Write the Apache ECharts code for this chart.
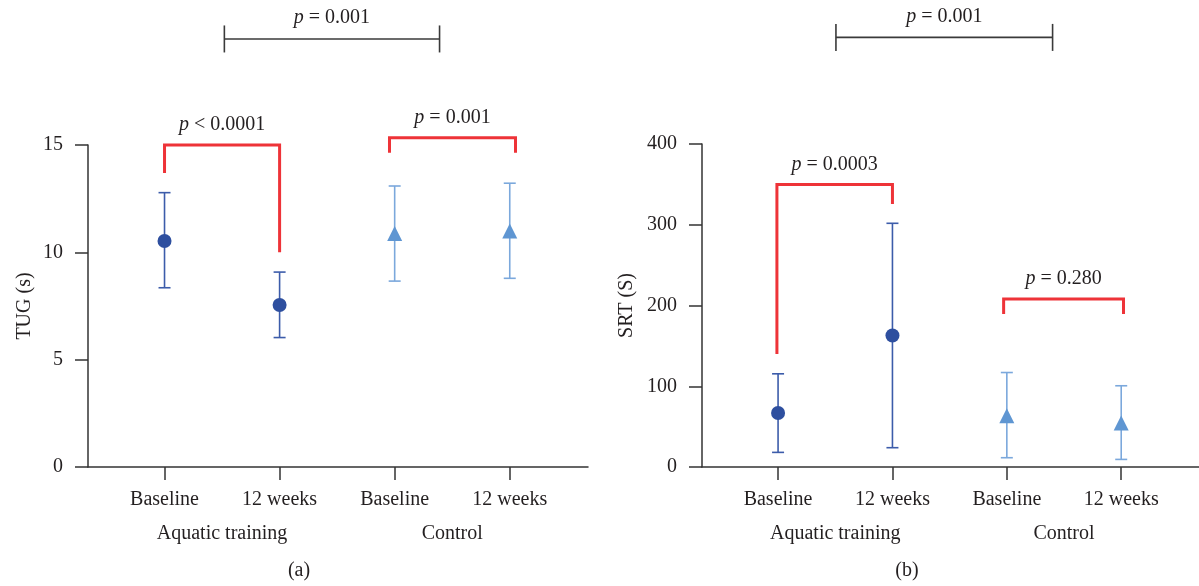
<!DOCTYPE html>
<html>
<head>
<meta charset="utf-8">
<style>
html,body{margin:0;padding:0;background:#fff;}
#chart{width:1199px;height:586px;}
</style>
<script src="https://cdn.jsdelivr.net/npm/echarts@6/dist/echarts.min.js"></script>
</head>
<body>
<div id="chart"></div>
<script>
// ---- data ----
const categories = ['Baseline', '12 weeks', 'Baseline', '12 weeks'];
const catPos = [1, 2, 3, 4];
const groups = ['Aquatic training', 'Control'];
const groupPos = [1.5, 3.5];

const tugMean = [10.53, 7.55, 10.88, 10.99];
const tugLow  = [8.35, 6.03, 8.66, 8.79];
const tugHigh = [12.78, 9.08, 13.09, 13.22];

const srtMean = [66.8, 162.8, 63.5, 54.4];
const srtLow  = [18.1, 23.9, 11.5, 9.4];
const srtHigh = [115.4, 301.8, 117, 100.6];

const tugTicks = [0, 5, 10, 15];
const srtTicks = [0, 100, 200, 300, 400];

// brackets: [x1, x2, yTop, yLeftEnd, yRightEnd]
const tugBrackets = [[1, 2, 15, 13.7, 10], [2.955, 4.05, 15.34, 14.64, 14.64]];
const tugBracketText = ['{i|p} < 0.0001', '{i|p} = 0.001'];
const tugTopBracket = [1.52, 3.39, 19.94];
const tugTopText = '{i|p} = 0.001';

const srtBrackets = [[0.99, 2, 350, 140, 325.7], [2.972, 4.02, 208.2, 189.6, 189.6]];
const srtBracketText = ['{i|p} = 0.0003', '{i|p} = 0.280'];
const srtTopBracket = [1.506, 3.40, 532];
const srtTopText = '{i|p} = 0.001';

// ---- styles ----
const FONT = '"Liberation Serif", "DejaVu Serif", serif';
const TXT = '#231f20';
const AXC = '#333333';
const DARK = '#2e4f9f';
const DARK_BAR = '#3c5caa';
const LIGHT = '#5f96d2';
const LIGHT_BAR = '#7ba8dc';
const RED = '#ee3338';
const FS = 20;
const rich = { i: { fontStyle: 'italic', fontFamily: FONT, fontSize: FS, fill: TXT, color: TXT } };

function pts(mean, idx) { return idx.map(i => [catPos[i], mean[i]]); }
function bars(low, high, idx) { return idx.map(i => [catPos[i], low[i], high[i]]); }

function errRender(color) {
  return function (params, api) {
    const x = api.value(0);
    const lo = api.coord([x, api.value(1)]);
    const hi = api.coord([x, api.value(2)]);
    const hw = 6;
    const st = { stroke: color, lineWidth: 1.6 };
    return { type: 'group', children: [
      { type: 'line', shape: { x1: lo[0], y1: lo[1], x2: hi[0], y2: hi[1] }, style: st },
      { type: 'line', shape: { x1: lo[0] - hw, y1: lo[1], x2: lo[0] + hw, y2: lo[1] }, style: st },
      { type: 'line', shape: { x1: hi[0] - hw, y1: hi[1], x2: hi[0] + hw, y2: hi[1] }, style: st }
    ]};
  };
}

function bracketRender(texts) {
  return function (params, api) {
    const x1 = api.value(0), x2 = api.value(1);
    const a = api.coord([x1, api.value(2)]);
    const b = api.coord([x2, api.value(2)]);
    const l = api.coord([x1, api.value(3)]);
    const r = api.coord([x2, api.value(4)]);
    const st = { stroke: RED, lineWidth: 3, fill: null, lineJoin: 'miter' };
    return { type: 'group', children: [
      { type: 'polyline', shape: { points: [l, a, b, r] }, style: st },
      { type: 'text', x: (a[0] + b[0]) / 2, y: a[1] - 10,
        style: { text: texts[params.dataIndex], rich: rich, fill: TXT, font: FS + 'px ' + FONT,
                 align: 'center', verticalAlign: 'bottom' } }
    ]};
  };
}

function topRender(text) {
  return function (params, api) {
    const a = api.coord([api.value(0), api.value(2)]);
    const b = api.coord([api.value(1), api.value(2)]);
    const st = { stroke: '#3a3a3a', lineWidth: 1.6 };
    return { type: 'group', children: [
      { type: 'line', shape: { x1: a[0], y1: a[1], x2: b[0], y2: b[1] }, style: st },
      { type: 'line', shape: { x1: a[0], y1: a[1] - 13.5, x2: a[0], y2: a[1] + 13.5 }, style: st },
      { type: 'line', shape: { x1: b[0], y1: b[1] - 13.5, x2: b[0], y2: b[1] + 13.5 }, style: st },
      { type: 'text', x: (a[0] + b[0]) / 2, y: a[1] - 11,
        style: { text: text, rich: rich, fill: TXT, font: FS + 'px ' + FONT,
                 align: 'center', verticalAlign: 'bottom' } }
    ]};
  };
}

function xAxes(grid) {
  return [
    { gridIndex: grid, type: 'value', min: 0.335, max: 4.68, position: 'bottom',
      axisLine: { show: true, lineStyle: { color: AXC, width: 1.5 } },
      axisTick: { show: true, length: 13, customValues: catPos, lineStyle: { color: AXC, width: 1.5 } },
      axisLabel: { customValues: catPos, margin: 23, color: TXT, fontFamily: FONT, fontSize: FS,
                   formatter: v => categories[Math.round(v) - 1] },
      splitLine: { show: false } },
    { gridIndex: grid, type: 'value', min: 0.335, max: 4.68, position: 'bottom', offset: 34,
      axisLine: { show: false }, axisTick: { show: false },
      axisLabel: { customValues: groupPos, margin: 23, color: TXT, fontFamily: FONT, fontSize: FS,
                   formatter: v => groups[groupPos.indexOf(v)] },
      splitLine: { show: false } }
  ];
}

function yAxis(grid, ticks, name, gap) {
  return { gridIndex: grid, type: 'value', min: ticks[0], max: ticks[ticks.length - 1],
    interval: ticks[1] - ticks[0],
    name: name, nameLocation: 'middle', nameGap: gap, nameRotate: 90,
    nameTextStyle: { color: TXT, fontFamily: FONT, fontSize: FS },
    axisLine: { show: true, lineStyle: { color: AXC, width: 1.5 } },
    axisTick: { show: true, length: 13, lineStyle: { color: AXC, width: 1.5 } },
    axisLabel: { margin: 25, color: TXT, fontFamily: FONT, fontSize: FS },
    splitLine: { show: false } };
}

function panelSeries(xi, yi, mean, low, high, brackets, btexts, top, ttext) {
  return [
    { type: 'custom', xAxisIndex: xi, yAxisIndex: yi, renderItem: errRender(DARK_BAR),
      data: bars(low, high, [0, 1]), z: 2, silent: true },
    { type: 'custom', xAxisIndex: xi, yAxisIndex: yi, renderItem: errRender(LIGHT_BAR),
      data: bars(low, high, [2, 3]), z: 2, silent: true },
    { type: 'scatter', xAxisIndex: xi, yAxisIndex: yi, symbol: 'circle', symbolSize: 14,
      itemStyle: { color: DARK, opacity: 1 }, data: pts(mean, [0, 1]), z: 3 },
    { type: 'scatter', xAxisIndex: xi, yAxisIndex: yi, symbol: 'triangle', symbolSize: 15,
      itemStyle: { color: LIGHT, opacity: 1 }, data: pts(mean, [2, 3]), z: 3 },
    { type: 'custom', xAxisIndex: xi, yAxisIndex: yi, renderItem: bracketRender(btexts),
      data: brackets, z: 4, silent: true, clip: false },
    { type: 'custom', xAxisIndex: xi, yAxisIndex: yi, renderItem: topRender(ttext),
      data: [top], z: 4, silent: true, clip: false }
  ];
}

const chart = echarts.init(document.getElementById('chart'), null, { renderer: 'canvas' });
chart.setOption({
  animation: false,
  backgroundColor: '#ffffff',
  textStyle: { fontFamily: FONT },
  grid: [
    { left: 88, right: 611, top: 145, bottom: 119 },
    { left: 702, right: 0, top: 144, bottom: 119 }
  ],
  xAxis: [].concat(xAxes(0), xAxes(1)),
  yAxis: [yAxis(0, tugTicks, 'TUG (s)', 53), yAxis(1, srtTicks, 'SRT (S)', 65)],
  series: [].concat(
    panelSeries(0, 0, tugMean, tugLow, tugHigh, tugBrackets, tugBracketText, tugTopBracket, tugTopText),
    panelSeries(2, 1, srtMean, srtLow, srtHigh, srtBrackets, srtBracketText, srtTopBracket, srtTopText)
  ),
  graphic: [
    { type: 'text', x: 299, y: 571, style: { text: '(a)', fill: TXT, font: FS + 'px ' + FONT, align: 'center', verticalAlign: 'middle' } },
    { type: 'text', x: 907, y: 571, style: { text: '(b)', fill: TXT, font: FS + 'px ' + FONT, align: 'center', verticalAlign: 'middle' } }
  ]
});
</script>
</body>
</html>
